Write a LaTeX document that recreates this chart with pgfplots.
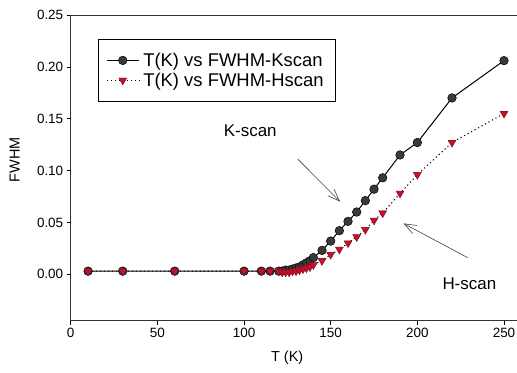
\documentclass[border=0pt]{standalone}
\usepackage{fontspec}
\setmainfont{Liberation Sans}
\usepackage{pgfplots}
\pgfplotsset{compat=1.18}
\usetikzlibrary{arrows.meta}
\definecolor{kgray}{HTML}{3A3A3A}
\definecolor{hred}{HTML}{C8102E}
\begin{document}
\begin{tikzpicture}
\begin{axis}[
  scale only axis, width=446bp, height=305.7bp,
  xmin=0, xmax=257.5, ymin=-0.045, ymax=0.25,
  xtick={0,50,100,150,200,250},
  ytick={0,0.05,0.1,0.15,0.2,0.25},
  yticklabel style={/pgf/number format/.cd, fixed, fixed zerofill, precision=2},
  /pgf/number format/assume math mode=true,
  tick pos=left, tick align=outside, major tick length=4bp,
  tick style={black, line width=0.6pt},
  axis line style={line width=0.8pt, black!80},
  tick label style={font=\fontsize{13.5}{16}\selectfont},
  xlabel={T (K)}, ylabel={FWHM},
  every axis x label/.style={at={(axis description cs:0.485,-0.122)}, anchor=center, font=\fontsize{14.5}{17}\selectfont},
  every axis y label/.style={at={(axis description cs:-0.1256,0.526)}, rotate=90, anchor=center, font=\fontsize{14.5}{17}\selectfont},
  legend style={at={(0.061,0.921)}, anchor=north west, draw=black, line width=0.6pt,
    font=\fontsize{18.5}{21}\selectfont, inner xsep=8bp, inner ysep=12bp, row sep=2bp,
    nodes={inner xsep=4bp, inner ysep=1.5bp}},
  legend cell align=left,
  legend image code/.code={\draw[mark repeat=2,mark phase=2,#1] plot coordinates {(0bp,0bp) (16bp,0bp) (32bp,0bp)};},
  clip=false,
]
\addplot[black, line width=1pt, mark=*, mark size=4.3bp,
  mark options={fill=kgray, draw=black, line width=0.5pt}] coordinates {
(10,0.003) (30,0.003) (60,0.003) (100,0.003) (110,0.003) (115,0.003) (120,0.003)
(122,0.003) (124,0.004) (126,0.004) (128,0.005) (130,0.006) (132,0.007) (134,0.009)
(136,0.011) (138,0.013) (140,0.016) (145,0.023) (150,0.032) (155,0.042) (160,0.051)
(165,0.060) (170,0.071) (175,0.082) (180,0.093) (190,0.115) (200,0.127) (220,0.170) (250,0.206)
};
\addlegendentry{T(K) vs FWHM-Kscan}
\addplot[black, line width=1pt, dash pattern=on 1.2pt off 2.8pt, mark=triangle*, mark size=4.6bp,
  mark options={rotate=180, fill=hred, draw=hred!60!black, line width=0.4pt, solid}] coordinates {
(10,0.003) (30,0.003) (60,0.003) (100,0.003) (110,0.003) (115,0.003) (120,0.003)
(122,0.002) (124,0.002) (126,0.002) (128,0.003) (130,0.003) (132,0.004) (134,0.005)
(136,0.006) (138,0.007) (140,0.009) (145,0.013) (150,0.019) (155,0.024) (160,0.030)
(165,0.036) (170,0.043) (175,0.052) (180,0.059) (190,0.078) (200,0.096) (220,0.127) (250,0.155)
};
\addlegendentry{T(K) vs FWHM-Hscan}
\draw[-{Straight Barb[length=12bp, width=9bp]}, black!75, line width=0.6pt]
  (axis cs:131,0.111) -- (axis cs:155.4,0.070);
\draw[-{Straight Barb[length=12bp, width=9bp]}, black!75, line width=0.6pt]
  (axis cs:229,0.016) -- (axis cs:192,0.049);
\node[font=\fontsize{17}{20}\selectfont] at (axis cs:103.6,0.138) {K-scan};
\node[font=\fontsize{17}{20}\selectfont] at (axis cs:230,-0.009) {H-scan};
\end{axis}
\pgfresetboundingbox
\path[use as bounding box] ([xshift=-70.7bp,yshift=-51.3bp]current axis.south west) rectangle ([yshift=15bp]current axis.north east);
\end{tikzpicture}
\end{document}
